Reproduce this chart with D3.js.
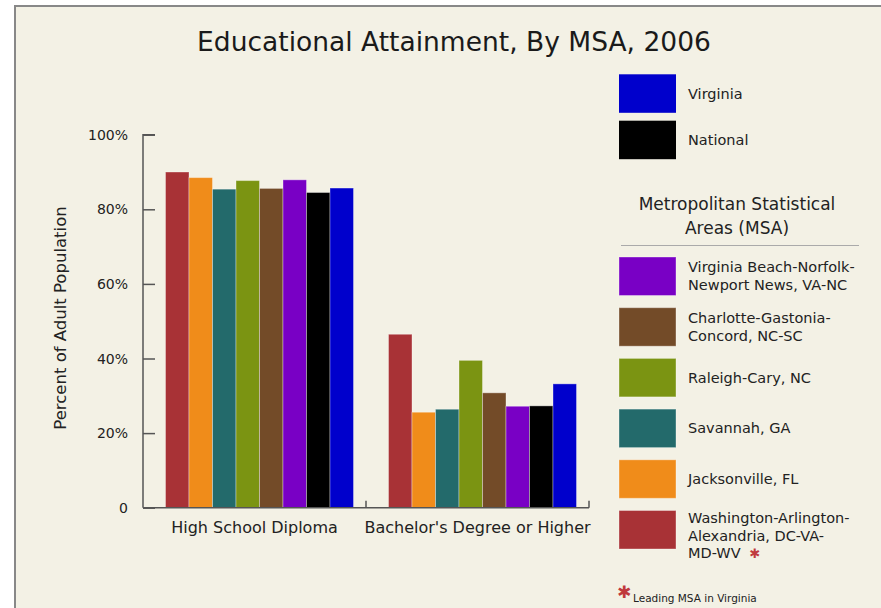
<!DOCTYPE html>
<html><head><meta charset="utf-8">
<script src="https://cdn.jsdelivr.net/npm/d3@7"></script>
<style>html,body{margin:0;padding:0;background:#fff;}svg{display:block;font-family:"DejaVu Sans",Verdana,sans-serif;}</style>
</head><body>
<script>
const categories = ["High School Diploma", "Bachelor's Degree or Higher"];
const seriesNames = ["Washington-Arlington-Alexandria, DC-VA-MD-WV", "Jacksonville, FL", "Savannah, GA", "Raleigh-Cary, NC", "Charlotte-Gastonia-Concord, NC-SC", "Virginia Beach-Norfolk-Newport News, VA-NC", "National", "Virginia"];
const seriesColors = ["#a83236", "#f08c1a", "#236a6b", "#7b9412", "#734b28", "#7900c5", "#000000", "#0000cc"];
const highSchool = [90.0, 88.5, 85.4, 87.7, 85.6, 87.9, 84.5, 85.7];
const bachelor = [46.5, 25.6, 26.4, 39.5, 30.8, 27.2, 27.3, 33.2];
const yTicks = [0, 20, 40, 60, 80, 100];
const topLegend = [["Virginia"], ["National"]];
const topLegendColors = ["#0000cc", "#000000"];
const msaLegend = [["Virginia Beach-Norfolk-", "Newport News, VA-NC"], ["Charlotte-Gastonia-", "Concord, NC-SC"], ["Raleigh-Cary, NC"], ["Savannah, GA"], ["Jacksonville, FL"], ["Washington-Arlington-", "Alexandria, DC-VA-", "MD-WV"]];
const msaColors = ["#7900c5", "#734b28", "#7b9412", "#236a6b", "#f08c1a", "#a83236"];
const valuesByCat = [highSchool, bachelor];

const W = 881, H = 608;
const svg = d3.select("body").append("svg").attr("width", W).attr("height", H);
svg.append("rect").attr("x", 15).attr("y", 6).attr("width", W).attr("height", H)
  .attr("fill", "#f3f1e5").attr("stroke", "#888").attr("stroke-width", 2);

svg.append("text").attr("x", 454).attr("y", 51).attr("text-anchor", "middle")
  .attr("font-size", 26.5).attr("fill", "#1a1a1a").text("Educational Attainment, By MSA, 2006");

const y = d3.scaleLinear().domain([0, 100]).range([507.7, 134.7]);
const x0 = d3.scaleBand().domain(categories).range([143, 589]);
const x1 = d3.scaleBand().domain(seriesNames).range([22.5, 210.5]);

// y axis
const ya = svg.append("g").attr("transform", "translate(143,0)")
  .call(d3.axisRight(y).tickValues(yTicks).tickSize(12).tickFormat(""));
ya.select(".domain").attr("stroke", "#555").attr("stroke-width", 1.5).attr("d", `M12,${y(100)}H0V${y(0)}`);
ya.selectAll(".tick line").attr("stroke", "#555").attr("stroke-width", 1.5);
svg.selectAll(".ylab").data(yTicks).enter().append("text")
  .attr("x", 128).attr("y", d => y(d) + 5).attr("text-anchor", "end")
  .attr("font-size", 14).attr("fill", "#222").text(d => d === 0 ? "0" : d + "%");

svg.append("text").attr("transform", "translate(66,318) rotate(-90)").attr("text-anchor", "middle")
  .attr("font-size", 16.5).attr("fill", "#222").text("Percent of Adult Population");

// bars
const groups = svg.selectAll(".grp").data(categories).enter().append("g")
  .attr("transform", d => `translate(${x0(d)},0)`);
groups.each(function(cat, ci) {
  d3.select(this).selectAll("rect").data(seriesNames).enter().append("rect")
    .attr("x", s => x1(s)).attr("width", x1.bandwidth())
    .attr("y", (s, i) => y(valuesByCat[ci][i]))
    .attr("height", (s, i) => y(0) - y(valuesByCat[ci][i]))
    .attr("fill", (s, i) => seriesColors[i])
    .attr("stroke", "rgba(255,255,255,0.35)").attr("stroke-width", 1);
});

// x axis
svg.append("line").attr("x1", 143).attr("x2", 589).attr("y1", y(0)).attr("y2", y(0))
  .attr("stroke", "#555").attr("stroke-width", 1.5);
svg.selectAll(".xt").data(categories).enter().append("line")
  .attr("x1", d => x0(d) + x0.bandwidth()).attr("x2", d => x0(d) + x0.bandwidth())
  .attr("y1", y(0)).attr("y2", y(0) - 7).attr("stroke", "#555").attr("stroke-width", 1.5);
svg.selectAll(".xl").data(categories).enter().append("text")
  .attr("x", d => x0(d) + x0.bandwidth() / 2).attr("y", 533).attr("text-anchor", "middle")
  .attr("font-size", 16).attr("fill", "#222").text(d => d);

// legend
const sw = 57, sh = 38.5, lx = 619;
topLegend.forEach((lines, i) => {
  const yy = 74.3 + i * 46.4;
  svg.append("rect").attr("x", lx).attr("y", yy).attr("width", sw).attr("height", sh).attr("fill", topLegendColors[i]);
  svg.append("text").attr("x", 688).attr("y", yy + sh / 2 + 5).attr("font-size", 14.5).attr("fill", "#222").text(lines[0]);
});
svg.append("text").attr("x", 737).attr("y", 210).attr("text-anchor", "middle").attr("font-size", 17).attr("fill", "#222").text("Metropolitan Statistical");
svg.append("text").attr("x", 737).attr("y", 234).attr("text-anchor", "middle").attr("font-size", 17).attr("fill", "#222").text("Areas (MSA)");
svg.append("line").attr("x1", 621).attr("x2", 859).attr("y1", 245.5).attr("y2", 245.5).attr("stroke", "#aaa").attr("stroke-width", 1);

msaLegend.forEach((lines, i) => {
  const yy = 257 + i * 50.7;
  const cy = yy + sh / 2;
  svg.append("rect").attr("x", lx).attr("y", yy).attr("width", sw).attr("height", sh).attr("fill", msaColors[i])
    .attr("stroke", "rgba(255,255,255,0.35)");
  const first = lines.length === 1 ? cy : (lines.length === 2 ? cy - 9 : cy - 12);
  const t = svg.append("text").attr("font-size", 14.5).attr("fill", "#222");
  lines.forEach((l, j) => {
    t.append("tspan").attr("x", 688).attr("y", first + j * 17.8 + 5).text(l);
  });
});

svg.append("text").attr("x", 755).attr("y", 558).attr("text-anchor", "middle").attr("font-size", 13).attr("fill", "#c0393d").text("\u2731");
svg.append("text").attr("x", 624).attr("y", 598).attr("text-anchor", "middle").attr("font-size", 17).attr("fill", "#c0393d").text("\u2731");
svg.append("text").attr("x", 633).attr("y", 602).attr("font-size", 10.5).attr("fill", "#222").text("Leading MSA in Virginia");
</script>
</body></html>
